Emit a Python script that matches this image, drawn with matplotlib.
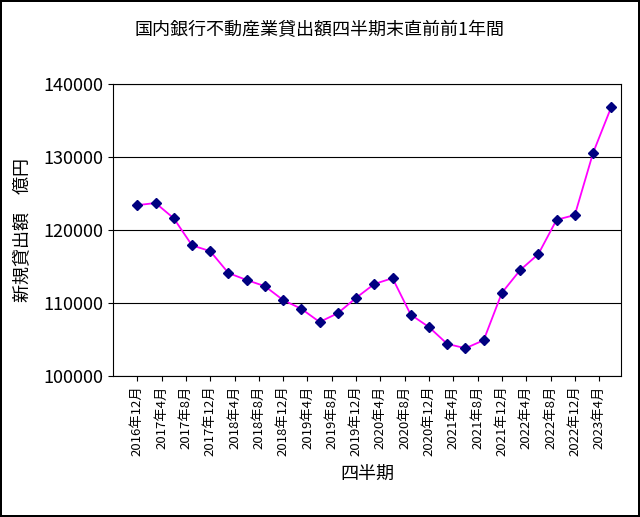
import matplotlib
matplotlib.use("Agg")
import matplotlib.pyplot as plt

plt.rcParams["font.family"] = "Noto Sans CJK JP"

values = [123400, 123700, 121600, 117900, 117100, 114100, 113150, 112300, 110400,
          109200, 107400, 108600, 110700, 112600, 113400, 108400, 106700, 104400,
          103800, 104900, 111400, 114500, 116700, 121400, 122050, 130550, 136850]
tick_labels = ["2016年12月", "2017年4月", "2017年8月", "2017年12月", "2018年4月", "2018年8月",
               "2018年12月", "2019年4月", "2019年8月", "2019年12月", "2020年4月", "2020年8月",
               "2020年12月", "2021年4月", "2021年8月", "2021年12月", "2022年4月", "2022年8月",
               "2022年12月", "2023年4月"]

x = [3 * i for i in range(len(values))]
tx = [4 * i for i in range(len(tick_labels))]

fig = plt.figure(figsize=(6.4, 5.17), dpi=100)
fig.patch.set_edgecolor("black")
fig.patch.set_linewidth(1.5)
ax = fig.add_axes([113/640, 141/517, 508/640, 292/517])
ax.plot(x, values, color="#FF00FF", lw=1.3, marker="D", ms=5.5,
        markerfacecolor="#000080", markeredgecolor="#000080")
ax.set_xlim(-4, 79.6)
ax.set_ylim(100000, 140000)
ax.set_yticks(range(100000, 140001, 10000))
ax.yaxis.grid(True, color="black", lw=0.8)
ax.set_xticks(tx)
ax.set_xticklabels(tick_labels, rotation=90, fontsize=9.5)
ax.tick_params(axis="y", labelsize=13)
for s in ax.spines.values():
    s.set_linewidth(0.8)
ax.set_xlabel("四半期", fontsize=13, labelpad=6)
ax.set_ylabel("新規貸出額　億円", fontsize=13, labelpad=8)
fig.suptitle("国内銀行不動産業貸出額四半期末直前前1年間", fontsize=13, y=0.96)
fig.savefig("out.png", dpi=100, edgecolor=fig.get_edgecolor())
